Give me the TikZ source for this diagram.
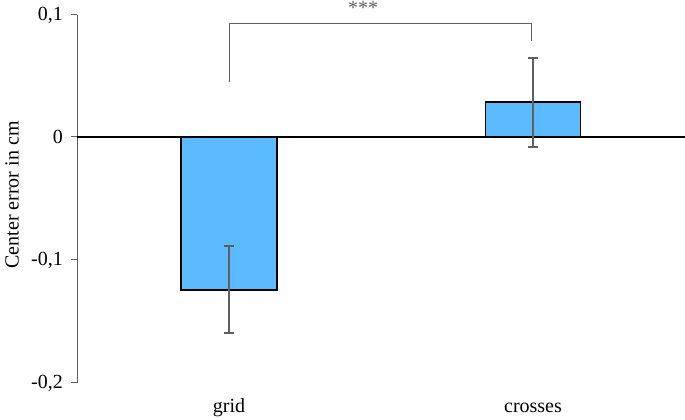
\documentclass[tikz,border=0pt]{standalone}
\usepackage{fontspec}
\setmainfont{Liberation Serif}
\definecolor{barblue}{HTML}{5CBBFF}
\definecolor{errgray}{HTML}{5F5F5F}

\begin{document}
\begin{tikzpicture}[
x=1pt,y=1pt,
font=\fontsize{20}{22}\selectfont,
bar/.style={
  draw=black,
  fill=barblue,
  line width=1.6pt
},
errbar/.style={
  draw=errgray,
  line width=1.6pt
},
axis/.style={
  draw=errgray,
  line width=1pt
},
sig/.style={
  draw=errgray,
  line width=1pt
}
]
\useasboundingbox (0,0) rectangle (685,420);
% y axis, picture y measured from the top
\coordinate (ytop) at (77,405);
\coordinate (ybot) at (77,37);
\draw[axis] (ytop) -- (ybot);
\foreach \v/\lab in {405/{0,1},283/0,160/{-0,1},37/{-0,2}}{
  \draw[axis] (71,\v) -- (77,\v);
  \node[anchor=east,inner sep=0pt] (tick\v) at (63,\v) {\lab};
}
\node[rotate=90] (ylab) at (12,225) {Center error in cm};

% bars
\node[bar,inner sep=0pt,minimum width=96pt,minimum height=153pt] (grid) at (229,206.5) {};
\node[bar,inner sep=0pt,minimum width=95pt,minimum height=35pt] (crosses) at (533,300.5) {};

% zero line
\coordinate (zl) at (77,283);
\coordinate (zr) at (685,283);
\draw[line width=1.2pt] (zl) -- (zr);

% error bars
\coordinate (ga) at (229,174);
\coordinate (gb) at (229,87);
\coordinate (ca) at (533,362);
\coordinate (cb) at (533,273);
\draw[errbar] (ga) -- (gb);
\draw[errbar] ([xshift=-5pt]ga) -- ([xshift=5pt]ga);
\draw[errbar] ([xshift=-5pt]gb) -- ([xshift=5pt]gb);
\draw[errbar] (ca) -- (cb);
\draw[errbar] ([xshift=-5pt]ca) -- ([xshift=5pt]ca);
\draw[errbar] ([xshift=-5pt]cb) -- ([xshift=5pt]cb);

% significance bracket
\coordinate (sl) at (229,338);
\coordinate (sr) at (531,379);
\draw[sig] (sl) -- (229,396) -- (531,396) -- (sr);
\node[text=errgray] (stars) at (363,412) {***};

% category labels
\node (glab) at (229,12) {grid};
\node (clab) at (533,12) {crosses};
\end{tikzpicture}
\end{document}
